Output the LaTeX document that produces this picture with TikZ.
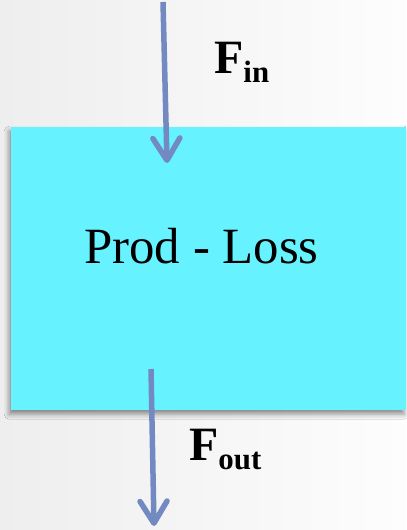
\documentclass[tikz,border=0pt]{standalone}
\usepackage{fontspec}
\setmainfont{Liberation Serif}
\usetikzlibrary{arrows.meta,shadows.blur}

\definecolor{boxcyan}{RGB}{102,243,255}
\definecolor{flowblue}{RGB}{115,137,194}
\definecolor{bgleft}{RGB}{238,238,238}
\definecolor{bgright}{RGB}{253,253,253}

\tikzset{
  blockbox/.style={draw=none, fill=boxcyan, rectangle, inner sep=0pt,
    minimum width=395bp, minimum height=283bp,
    blur shadow={shadow xshift=-2bp, shadow yshift=-4bp,
      shadow blur radius=5bp, shadow opacity=45}},
  flow/.style={draw=flowblue, line width=5.5bp,
    -{Straight Barb[length=22bp, width=27bp, round]}},
  biglabel/.style={font=\fontsize{51}{54}\selectfont, text=black, inner sep=0pt},
  fluxlabel/.style={font=\fontsize{48}{50}\selectfont\bfseries, text=black, inner sep=0pt}
}

\newcommand{\fluxsub}[1]{\raisebox{-9bp}{\fontsize{31}{34}\selectfont\bfseries #1}}

\begin{document}
\begin{tikzpicture}[x=1bp, y=-1bp]
  % page and soft grey-to-white background
  \useasboundingbox (0,0) rectangle (406,530);
  \shade[left color=bgleft, right color=bgright] (0,0) rectangle (406,530);

  % the control volume
  \node[blockbox, anchor=north west] (box) at (11,127) {};
  \node[biglabel, anchor=base] (balance) at (201.5,263) {Prod - Loss};

  % inflow
  \coordinate (inStart) at (163,2);
  \coordinate (inEnd) at (167,163);
  \draw[flow] (inStart) -- (inEnd);
  \node[fluxlabel, anchor=base west] (fin) at (214,74) {F\fluxsub{in}};

  % outflow
  \coordinate (outStart) at (151,369);
  \coordinate (outEnd) at (154,526);
  \draw[flow] (outStart) -- (outEnd);
  \node[fluxlabel, anchor=base west] (fout) at (189,460) {F\fluxsub{out}};
\end{tikzpicture}
\end{document}
